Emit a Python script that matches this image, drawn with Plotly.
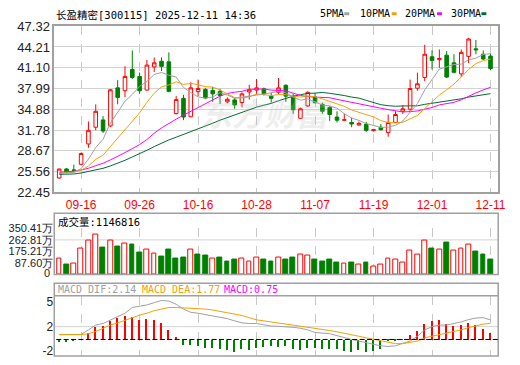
import plotly.graph_objects as go

# ---------------- data ----------------
dates = ["09-11","09-12","09-15","09-16","09-17","09-18","09-19","09-22","09-23","09-24",
         "09-25","09-26","09-29","09-30","10-09","10-10","10-13","10-14","10-15","10-16",
         "10-17","10-20","10-21","10-22","10-23","10-24","10-27","10-28","10-29","10-30",
         "10-31","11-03","11-04","11-05","11-06","11-07","11-10","11-11","11-12","11-13",
         "11-14","11-17","11-18","11-19","11-20","11-21","11-24","11-25","11-26","11-27",
         "11-28","12-01","12-02","12-03","12-04","12-05","12-08","12-09","12-10","12-11"]

opens = [24.60,25.95,25.80,26.65,29.69,32.20,33.29,32.39,38.09,37.66,
         40.84,39.80,37.76,41.22,42.07,41.98,34.24,36.52,33.77,37.52,
         37.85,37.71,37.57,36.00,36.28,35.90,37.47,37.76,37.95,36.85,
         37.42,38.47,36.85,33.53,35.39,36.71,35.62,35.15,33.72,33.25,
         32.91,32.53,32.63,31.68,32.20,31.39,32.91,34.58,34.90,38.04,
         39.65,42.74,42.31,42.98,41.84,40.18,42.80,43.93,43.12,42.84]
highs = [26.00,26.10,26.60,28.40,33.06,35.62,33.86,37.90,39.23,41.32,
         43.69,40.37,42.26,42.64,42.64,43.40,36.85,37.04,38.94,39.32,
         38.09,38.23,37.95,36.66,36.57,37.42,38.56,39.42,38.14,37.33,
         39.56,38.61,37.19,35.15,37.57,37.33,35.86,35.38,34.58,34.20,
         33.63,33.06,33.00,31.96,32.68,34.10,34.58,35.53,39.32,40.37,
         44.54,43.69,43.83,43.60,43.12,43.83,45.59,45.26,43.69,43.22]
lows = [24.50,25.40,25.45,26.50,29.12,31.73,31.35,32.20,35.62,36.71,
        39.42,37.19,37.66,40.46,40.60,37.42,34.10,33.25,33.70,36.85,
        36.38,36.00,35.67,35.76,34.95,35.19,36.33,37.09,36.95,35.90,
        37.19,36.00,34.20,33.48,35.24,35.76,34.20,33.15,32.91,33.20,
        32.20,32.44,31.50,31.58,31.73,30.78,32.82,34.20,34.48,37.66,
        39.08,40.84,41.08,39.56,40.27,39.70,41.79,43.12,42.26,40.75]
closes = [25.94,25.50,25.75,28.26,31.73,34.58,31.63,37.80,36.66,39.80,
          39.65,37.66,41.50,41.84,41.31,37.57,36.33,33.72,38.09,37.99,
          36.57,37.19,36.95,36.38,35.53,37.19,37.80,38.09,37.19,36.52,
          38.09,36.85,34.81,34.96,37.42,35.86,34.58,34.10,33.25,33.30,
          32.68,32.77,31.73,31.82,31.82,32.91,34.10,34.96,37.99,38.70,
          43.12,42.17,42.50,39.70,40.41,43.40,45.40,43.79,42.41,40.98]

ma5 = [25.25,25.35,25.45,26.00,27.44,29.16,30.39,32.80,34.48,36.09,
       37.11,38.31,39.05,40.09,40.39,39.98,39.71,38.15,37.40,36.74,
       36.54,36.71,37.36,37.02,36.52,36.65,36.77,37.00,37.16,37.36,
       37.54,37.35,36.69,36.25,36.43,35.98,35.53,35.38,35.04,34.22,
       33.58,33.22,32.75,32.46,32.16,32.21,32.48,33.12,34.36,35.73,
       37.77,39.39,40.90,41.24,41.58,41.64,42.28,42.54,43.08,43.20]
ma10 = [25.30,25.35,25.45,25.75,26.40,27.40,28.00,29.30,30.60,31.77,
        33.14,34.35,35.93,37.29,38.24,38.54,39.01,38.60,38.75,38.57,
        38.26,38.21,37.76,37.21,36.63,36.59,36.74,37.18,37.09,36.94,
        37.09,37.06,36.85,36.70,36.89,36.76,36.44,36.04,35.64,35.32,
        34.78,34.37,34.07,33.75,33.19,32.90,32.85,32.93,33.41,33.95,
        34.99,35.93,37.01,37.80,38.66,39.71,40.84,41.72,42.16,42.39]
ma20 = [25.45,25.50,25.60,25.80,26.05,26.45,26.80,27.30,27.80,28.40,
        29.00,29.60,30.35,31.30,32.10,32.80,33.40,34.00,34.60,35.17,
        35.70,36.28,36.84,37.25,37.44,37.57,37.88,37.89,37.92,37.75,
        37.68,37.64,37.30,36.96,36.76,36.68,36.59,36.61,36.37,36.13,
        35.94,35.72,35.46,35.23,35.04,34.83,34.64,34.49,34.53,34.64,
        34.89,35.15,35.54,35.77,35.92,36.30,36.84,37.33,37.78,38.17]
ma30 = [25.15,25.15,25.20,25.35,25.55,25.80,26.05,26.40,26.80,27.25,
        27.75,28.20,28.75,29.30,29.85,30.30,30.70,31.10,31.50,31.95,
        32.35,32.80,33.25,33.65,34.10,34.50,34.90,35.20,35.50,35.76,
        36.16,36.54,36.84,37.07,37.26,37.30,37.40,37.27,37.16,36.94,
        36.71,36.55,36.22,35.89,35.57,35.42,35.34,35.38,35.38,35.40,
        35.62,35.79,35.97,36.08,36.25,36.45,36.71,36.90,37.07,37.22]

# volume in 万
volumes = [123,74,79,197,258,307,206,258,213,233,
           228,162,189,160,132,186,120,125,189,150,
           140,120,130,100,110,120,100,130,110,100,
           130,110,130,150,140,110,100,110,90,80,
           85,70,90,60,70,120,110,90,180,150,
           260,200,190,240,180,200,230,170,150,114.68]

dif = [0.53,0.53,0.53,0.55,1.05,1.58,1.75,2.10,2.46,2.88,
       3.51,3.61,3.79,4.04,4.28,4.21,3.86,3.33,2.98,2.88,
       2.74,2.60,2.46,2.28,2.04,1.82,1.75,1.75,1.61,1.47,
       1.44,1.40,1.33,1.23,1.05,0.77,0.70,0.63,0.42,0.18,
       0.00,-0.18,-0.35,-0.53,-0.70,-0.77,-0.70,-0.42,-0.18,0.35,
       1.05,1.40,1.58,1.58,1.75,1.93,2.18,2.35,2.39,2.14]
dea = [0.53,0.53,0.53,0.53,0.63,0.88,1.23,1.58,1.82,2.11,
       2.46,2.67,2.88,3.16,3.33,3.51,3.51,3.47,3.44,3.40,
       3.33,3.23,3.09,2.95,2.81,2.63,2.39,2.15,2.04,1.93,
       1.82,1.68,1.58,1.47,1.37,1.23,1.12,0.98,0.84,0.70,
       0.53,0.35,0.18,0.00,-0.18,-0.35,-0.46,-0.46,-0.35,-0.18,
       0.18,0.35,0.60,0.77,0.88,1.05,1.30,1.51,1.68,1.77]
macd = [-0.25,-0.25,-0.18,0.05,0.77,1.40,1.47,2.10,2.39,2.60,
        2.56,2.21,2.28,2.18,1.86,1.05,0.28,-0.53,-0.53,-0.63,
        -0.88,-0.88,-1.05,-1.12,-1.30,-0.98,-1.12,-0.88,-0.81,-0.70,
        -0.77,-0.70,-1.05,-1.12,-0.88,-0.88,-0.98,-1.05,-1.05,-1.23,
        -1.30,-1.12,-1.30,-1.23,-1.05,-0.18,-0.15,0.02,0.53,0.95,
        1.75,2.10,2.21,1.75,1.47,1.68,1.86,1.68,1.23,0.75]

price_ticks = [22.45,25.56,28.67,31.78,34.88,37.99,41.10,44.21,47.32]
vol_ticks = [87.60,175.21,262.81,350.41]
vol_ticktext = ["87.60万","175.21万","262.81万","350.41万"]
vol_zero_label = "0"
macd_tickpos = [-1.29,1.41,4.18]
macd_ticktext = ["-2","2","5"]
date_ticks = ["09-16","09-26","10-16","10-28","11-07","11-19","12-01","12-11"]

title_text = "长盈精密[300115] 2025-12-11 14:36"
vol_header = "成交量:1146816"
macd_labels = ["MACD_DIF:2.14", "MACD_DEA:1.77", "MACD:0.75"]

# ---------------- styling ----------------
W, H = 520, 365
def px(x): return x / W
def py(y): return 1 - y / H

RED = "#ff0000"
GREEN = "#008000"
C5, C10, C20, C30 = "#a0a0a0", "#f5a000", "#ff00ff", "#006a30"
MONO = "DejaVu Sans Mono, 'Noto Sans CJK SC', monospace"
SANS = "'Liberation Sans', Arial, sans-serif"

fig = go.Figure()

fig.add_trace(go.Candlestick(
    x=dates, open=opens, high=highs, low=lows, close=closes,
    increasing=dict(line=dict(color=RED, width=1), fillcolor="#ffffff"),
    decreasing=dict(line=dict(color=GREEN, width=1), fillcolor=GREEN),
    whiskerwidth=0, xaxis="x", yaxis="y", hoverinfo="skip", showlegend=False))

for arr, col in [(ma30, C30), (ma20, C20), (ma10, C10), (ma5, C5)]:
    fig.add_trace(go.Scatter(x=dates, y=arr, mode="lines", line=dict(color=col, width=1),
                             xaxis="x", yaxis="y", hoverinfo="skip", showlegend=False))

# volume colours: up vs previous close
vol_up = [True] + [closes[i] >= closes[i - 1] for i in range(1, len(closes))]
fig.add_trace(go.Bar(
    x=dates, y=volumes, width=0.66,
    marker=dict(color=["#ffffff" if u else GREEN for u in vol_up],
                line=dict(color=[RED if u else GREEN for u in vol_up], width=1)),
    xaxis="x2", yaxis="y2", hoverinfo="skip", showlegend=False))

fig.add_trace(go.Bar(
    x=dates, y=macd, width=0.2,
    marker=dict(color=[RED if v >= 0 else GREEN for v in macd], line=dict(width=0)),
    xaxis="x3", yaxis="y3", hoverinfo="skip", showlegend=False))
fig.add_trace(go.Scatter(x=dates, y=dif, mode="lines", line=dict(color="#a0a0a0", width=1),
                         xaxis="x3", yaxis="y3", hoverinfo="skip", showlegend=False))
fig.add_trace(go.Scatter(x=dates, y=dea, mode="lines", line=dict(color="#f5a000", width=1),
                         xaxis="x3", yaxis="y3", hoverinfo="skip", showlegend=False))

xr = [-0.675, 60.05]
xcommon = dict(domain=[px(55), px(505)], type="category", range=xr,
               tickvals=date_ticks, ticks="", showgrid=True, gridcolor="#c8c8c8",
               griddash="dash", gridwidth=1, zeroline=False, fixedrange=True)

shapes = [
    dict(type="rect", xref="paper", yref="paper", x0=px(55), x1=px(505), y0=py(279), y1=py(215),
         line=dict(color="#a0a0a0", width=1.5), layer="above"),
    dict(type="rect", xref="paper", yref="paper", x0=px(55), x1=px(505), y0=py(364), y1=py(288),
         line=dict(color="#a0a0a0", width=1.5), layer="above"),
    dict(type="line", xref="paper", yref="paper", x0=px(55), x1=px(505), y0=py(301), y1=py(301),
         line=dict(color="#a0a0a0", width=1.5)),
    dict(type="line", xref="paper", yref="y2", x0=px(55), x1=px(505), y0=262.81, y1=262.81,
         line=dict(color="#d3d3d3", width=1), layer="below"),
    dict(type="line", xref="paper", yref="y3", x0=px(55), x1=px(505), y0=1.41, y1=1.41,
         line=dict(color="#d3d3d3", width=1), layer="below"),
    dict(type="line", xref="paper", yref="y3", x0=px(57), x1=px(505), y0=0, y1=0,
         line=dict(color="#000000", width=1, dash="5px,2.4px")),
]

for x0, col in [(349, C5), (397, C10), (443, C20), (488, C30)]:
    shapes.append(dict(type="rect", xref="paper", yref="paper", x0=px(x0), x1=px(x0 + 5),
                       y0=py(8.5), y1=py(5.5), fillcolor=col, line=dict(width=0)))

annotations = [
    dict(text=title_text, x=px(55), y=py(8), xref="paper", yref="paper", xanchor="left",
         yanchor="middle", showarrow=False, font=dict(family=MONO, size=10.5, color="#000")),
    dict(text=vol_header, x=px(57), y=py(224), xref="paper", yref="paper", xanchor="left",
         yanchor="middle", showarrow=False, font=dict(family=MONO, size=10.5, color="#000")),
    dict(text=vol_zero_label, x=px(52), y=py(277.5), xref="paper", yref="paper",
         xanchor="right", yanchor="middle", showarrow=False, borderpad=0,
         font=dict(family=SANS, size=11, color="#222")),
    dict(text="东方财富", x=px(270), y=py(110), xref="paper", yref="paper", xanchor="center",
         yanchor="middle", showarrow=False,
         font=dict(family="'Noto Sans CJK SC'", size=32, color="rgba(190,190,190,0.25)",
                   weight="bold", style="italic")),
]
for txt, x0 in [("5PMA", 322), ("10PMA", 363), ("20PMA", 408), ("30PMA", 455)]:
    annotations.append(dict(text=txt, x=px(x0), y=py(7), xref="paper", yref="paper",
                            xanchor="left", yanchor="middle", showarrow=False,
                            font=dict(family=MONO, size=10, color="#000")))
for txt, x0, col in zip(macd_labels, [57, 142, 225], ["#a0a0a0", "#f5a000", "#ff00ff"]):
    annotations.append(dict(text=txt, x=px(x0), y=py(295), xref="paper", yref="paper",
                            xanchor="left", yanchor="middle", showarrow=False,
                            font=dict(family=MONO, size=10, color=col)))

fig.update_layout(
    width=W, height=H, autosize=False, margin=dict(l=0, r=0, t=0, b=0),
    paper_bgcolor="#ffffff", plot_bgcolor="#ffffff", showlegend=False,
    bargap=0,
    xaxis=dict(**xcommon, anchor="y", showticklabels=True,
               tickfont=dict(family=SANS, size=12, color=RED),
               showline=True, mirror=True, linecolor="#a0a0a0", linewidth=1.5,
               rangeslider=dict(visible=False)),
    yaxis=dict(domain=[py(193.3), py(20)], range=[22.45, 47.32], tickvals=price_ticks,
               tickformat=".2f", ticks="", showgrid=True, gridcolor="#d3d3d3", zeroline=False,
               showline=True, mirror=True, linecolor="#a0a0a0", linewidth=1.5,
               tickfont=dict(family=SANS, size=13, color="#222"), fixedrange=True),
    xaxis2=dict(**xcommon, anchor="y2", matches="x", showticklabels=False, showline=False),
    yaxis2=dict(domain=[py(279), py(230)], range=[-3.7, 357.8], tickvals=vol_ticks,
                ticktext=vol_ticktext, ticks="", showgrid=False, zeroline=False, anchor="x2",
                tickfont=dict(family=SANS, size=11, color="#222"), fixedrange=True),
    xaxis3=dict(**xcommon, anchor="y3", matches="x", showticklabels=False, showline=False),
    yaxis3=dict(domain=[py(364), py(301)], range=[-1.82, 4.81], tickvals=macd_tickpos,
                ticktext=macd_ticktext, ticks="", showgrid=False, zeroline=False, anchor="x3",
                tickfont=dict(family=SANS, size=12, color="#222"), fixedrange=True),
    shapes=shapes, annotations=annotations,
)

fig.write_html("out.html", config={"displayModeBar": False})
